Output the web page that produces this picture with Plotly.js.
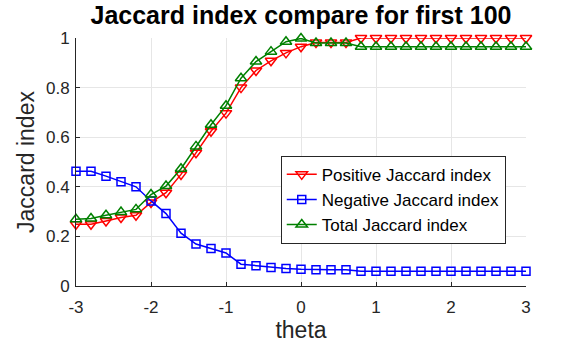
<!DOCTYPE html>
<html>
<head>
<meta charset="utf-8">
<script src="https://cdn.plot.ly/plotly-3.0.1.min.js"></script>
<style>
  html, body { margin: 0; padding: 0; background: #fff; }
  #myChart { width: 581px; height: 345px; }
</style>
</head>
<body>
<div id="myChart"></div>
<script>
var theta = [-3, -2.8, -2.6, -2.4, -2.2, -2, -1.8, -1.6, -1.4, -1.2, -1, -0.8, -0.6, -0.4, -0.2, 0,
             0.2, 0.4, 0.6, 0.8, 1, 1.2, 1.4, 1.6, 1.8, 2, 2.2, 2.4, 2.6, 2.8, 3];

var positive = [0.249, 0.249, 0.262, 0.276, 0.285, 0.337, 0.376, 0.45, 0.537, 0.624, 0.697, 0.80, 0.869, 0.908, 0.94, 0.965,
                0.982, 0.982, 0.982, 1, 1, 1, 1, 1, 1, 1, 1, 1, 1, 1, 1];

var negative = [0.463, 0.463, 0.443, 0.42, 0.40, 0.343, 0.292, 0.213, 0.169, 0.151, 0.133, 0.088, 0.082, 0.075, 0.071, 0.068,
                0.066, 0.066, 0.066, 0.059, 0.059, 0.059, 0.059, 0.059, 0.059, 0.059, 0.059, 0.059, 0.059, 0.059, 0.059];

var total = [0.269, 0.272, 0.285, 0.298, 0.309, 0.369, 0.403, 0.473, 0.563, 0.65, 0.727, 0.838, 0.905, 0.945, 0.985, 0.998,
             0.98, 0.98, 0.98, 0.965, 0.965, 0.965, 0.965, 0.965, 0.965, 0.965, 0.965, 0.965, 0.965, 0.965, 0.965];

var xticks = [-3, -2, -1, 0, 1, 2, 3];
var xlabels = ['-3', '-2', '-1', '0', '1', '2', '3'];
var yticks = [0, 0.2, 0.4, 0.6, 0.8, 1];
var ylabels = ['0', '0.2', '0.4', '0.6', '0.8', '1'];

var font = 'Liberation Sans, Arial, sans-serif';
var ink = '#262626';

function trace(y, name, color, symbol, size) {
  return {
    x: theta,
    y: y,
    name: name,
    type: 'scatter',
    mode: 'lines+markers',
    cliponaxis: false,
    line: {color: color, width: 1.5},
    marker: {symbol: symbol, size: size, color: color, line: {color: color, width: 1.5}}
  };
}

var data = [
  trace(positive, 'Positive Jaccard index', '#ff0000', 'triangle-down-open', 10),
  trace(negative, 'Negative Jaccard index', '#0000ff', 'square-open', 8),
  trace(total, 'Total Jaccard index', '#008000', 'triangle-up-open', 10)
];

var layout = {
  width: 581,
  height: 345,
  margin: {l: 76, r: 55, t: 38, b: 59},
  paper_bgcolor: '#fff',
  plot_bgcolor: '#fff',
  font: {family: font, color: ink},
  title: {
    text: '<b>Jaccard index compare for first 100</b>',
    font: {family: font, size: 25, color: '#000'},
    x: 0.5, xref: 'paper', xanchor: 'center',
    yref: 'container', y: 0.98, yanchor: 'top'
  },
  xaxis: {
    range: [-3, 3],
    tickvals: xticks,
    ticktext: xlabels,
    ticks: 'inside',
    ticklen: 4,
    tickcolor: ink,
    ticklabelstandoff: 6,
    showline: true,
    linecolor: ink,
    linewidth: 1,
    showgrid: true,
    gridcolor: '#e6e6e6',
    zeroline: false,
    tickfont: {size: 17, color: ink},
    title: {text: 'theta', font: {size: 23, color: ink}, standoff: 4}
  },
  yaxis: {
    range: [0, 1],
    tickvals: yticks,
    ticktext: ylabels,
    ticks: 'inside',
    ticklen: 4,
    tickcolor: ink,
    ticklabelstandoff: 2,
    showline: true,
    linecolor: ink,
    linewidth: 1,
    showgrid: true,
    gridcolor: '#e6e6e6',
    zeroline: false,
    tickfont: {size: 17, color: ink},
    title: {text: 'Jaccard index', font: {size: 23, color: ink}, standoff: 4}
  },
  showlegend: true,
  legend: {
    x: 0.455, y: 0.525,
    xanchor: 'left', yanchor: 'top',
    bgcolor: '#fff',
    bordercolor: ink,
    borderwidth: 1,
    font: {size: 17, color: '#000'},
    tracegroupgap: 0
  }
};

Plotly.newPlot('myChart', data, layout, {displayModeBar: false, staticPlot: true});
</script>
</body>
</html>
